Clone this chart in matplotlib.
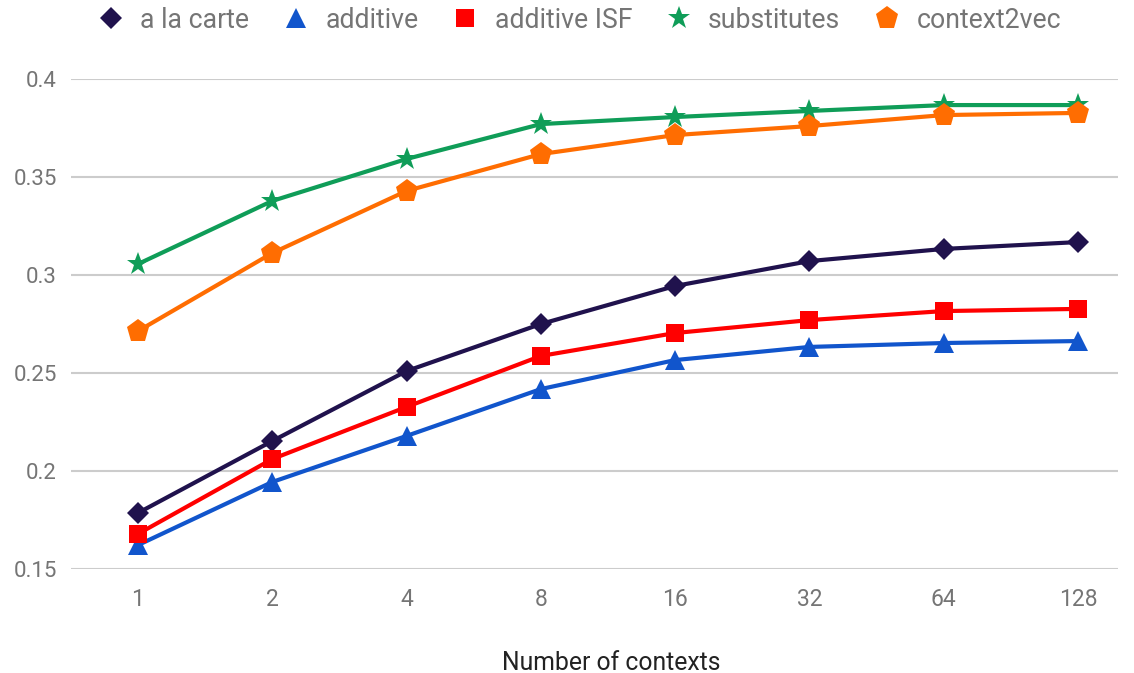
import matplotlib.pyplot as plt
import numpy as np

plt.rcParams['font.family'] = ['Roboto', 'DejaVu Sans']

contexts = ['1', '2', '4', '8', '16', '32', '64', '128']

a_la_carte = [0.1786, 0.2153, 0.2510, 0.2750, 0.2944, 0.3071, 0.3133, 0.3168]
additive = [0.1622, 0.1944, 0.2179, 0.2418, 0.2566, 0.2633, 0.2653, 0.2663]
additive_isf = [0.1679, 0.2061, 0.2327, 0.2587, 0.2704, 0.2770, 0.2816, 0.2827]
substitutes = [0.3056, 0.3378, 0.3592, 0.3770, 0.3806, 0.3837, 0.3867, 0.3867]
context2vec = [0.2714, 0.3112, 0.3429, 0.3617, 0.3714, 0.3760, 0.3816, 0.3827]

series = [
    ('a la carte', a_la_carte, '#20124d', 'D', 11.5),
    ('additive', additive, '#1155cc', '^', 15),
    ('additive ISF', additive_isf, '#ff0000', 's', 13),
    ('substitutes', substitutes, '#0f9d58', '*', 17),
    ('context2vec', context2vec, '#ff6d01', 'p', 17),
]

fig = plt.figure(figsize=(11.34, 6.73), dpi=100)
ax = fig.add_axes([70.85 / 1134, 1 - 569 / 673, 1047.5 / 1134, 490 / 673])

x = np.arange(len(contexts))
handles = []
for name, vals, color, marker, ms in series:
    ax.plot(x, vals, color=color, lw=3, zorder=3, clip_on=False)
    ax.plot(x, vals, ls='none', marker=marker, ms=ms, color=color,
            markeredgewidth=0, zorder=4, clip_on=False)
    handles.append(plt.Line2D([], [], ls='none', marker=marker, ms=ms,
                              color=color, markeredgewidth=0, label=name))

ax.set_xlim(-0.5, 7.3)
ax.set_ylim(0.15, 0.4)
ax.set_yticks([0.15, 0.2, 0.25, 0.3, 0.35, 0.4])
ax.set_yticklabels(['0.15', '0.2', '0.25', '0.3', '0.35', '0.4'])
ax.set_xticks(x)
ax.set_xticklabels(contexts)
ax.grid(axis='y', color='#cccccc', lw=1.5)
ax.set_axisbelow(True)
for s in ax.spines.values():
    s.set_visible(False)
ax.tick_params(length=0, labelsize=16, labelcolor='#757575')
ax.tick_params(axis='x', pad=14, labelsize=16.5)
ax.tick_params(axis='y', pad=10)

fig.text(611 / 1134, 1 - 663 / 673, 'Number of contexts', ha='center',
         va='center', fontsize=17.8, color='#222222')

fig.legend(handles=handles, loc='center', bbox_to_anchor=(578 / 1134, 1 - 20 / 673),
           ncol=5, frameon=False, fontsize=19.2, labelcolor='#757575',
           handletextpad=0.5, columnspacing=1.15, handlelength=1.2)

fig.savefig('out.png', dpi=100)
